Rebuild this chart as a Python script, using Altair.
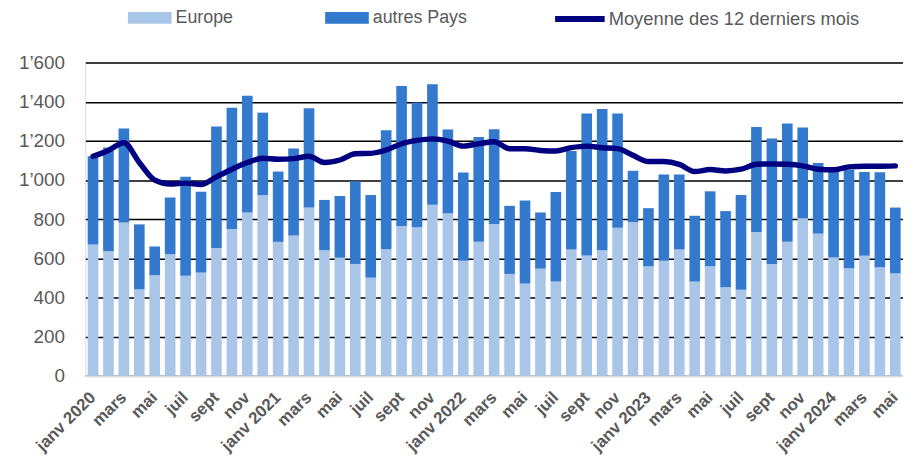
import altair as alt
import pandas as pd

mois = [f"{a}-{m:02d}" for a in (2020, 2021, 2022, 2023, 2024) for m in range(1, 13)][:53]

europe = [670, 636, 783, 441, 513, 621, 511, 527, 652, 750, 834, 923,
          684, 716, 859, 641, 603, 571, 501, 646, 765, 758, 873, 829,
          587, 685, 775, 520, 471, 547, 481, 645, 614, 641, 756, 785,
          559, 587, 645, 481, 560, 452, 439, 734, 571, 684, 805, 726,
          604, 549, 613, 554, 523]
autres = [451, 530, 480, 332, 147, 289, 505, 413, 621, 619, 596, 421,
          359, 445, 508, 257, 315, 422, 422, 608, 715, 638, 616, 429,
          451, 534, 484, 348, 424, 287, 458, 503, 725, 721, 583, 262,
          297, 441, 383, 336, 382, 389, 484, 537, 641, 604, 463, 361,
          441, 503, 428, 486, 336]
moyenne = [1121, 1151, 1190, 1089, 999, 979, 984, 977, 1016, 1055, 1089, 1111,
           1106, 1109, 1121, 1089, 1102, 1134, 1136, 1153, 1185, 1202, 1210, 1198,
           1173, 1185, 1195, 1160, 1160, 1151, 1148, 1165, 1173, 1165, 1160, 1126,
           1094, 1094, 1080, 1043, 1053, 1046, 1055, 1080, 1082, 1080, 1072, 1055,
           1052, 1067, 1070, 1070, 1072]
noms_mois = ["janv", "févr", "mars", "avr", "mai", "juin", "juil", "août", "sept", "oct", "nov", "déc"]
y_ticks = [0, 200, 400, 600, 800, 1000, 1200, 1400, 1600]
series = ["Europe", "autres Pays"]
couleurs = ["#A9C6E9", "#3379CD"]
nom_ligne = "Moyenne des 12 derniers mois"

rows = []
for i, k in enumerate(mois):
    rows.append({"mois": k, "serie": series[0], "valeur": europe[i], "ordre": 0})
    rows.append({"mois": k, "serie": series[1], "valeur": autres[i], "ordre": 1})
df_bars = pd.DataFrame(rows)
df_line = pd.DataFrame({"mois": mois, "valeur": moyenne, "serie": nom_ligne})

arr = "[" + ",".join(f"'{m}'" for m in noms_mois) + "]"
label_expr = (f"substring(datum.value,5,7)=='01' ? 'janv ' + substring(datum.value,0,4) : "
              f"{arr}[toNumber(substring(datum.value,5,7))-1]")

FONT = "Liberation Sans"
GRAY = "#595959"

x_axis = alt.Axis(values=mois[::2], labelExpr=label_expr, labelAngle=-45,
                  labelAlign="right", labelBaseline="middle", labelPadding=19,
                  labelFont=FONT, labelFontSize=17, labelFontWeight="bold",
                  labelColor=GRAY, ticks=False, domain=True,
                  domainColor="#D9D9D9", domainWidth=2, grid=False,
                  labelOverlap=False, title=None)
y_axis = alt.Axis(values=y_ticks,
                  labelExpr="replace(format(datum.value, ','), ',', '’')",
                  labelFont=FONT, labelFontSize=19, labelColor=GRAY,
                  labelPadding=21, ticks=False, domain=False, labelOverlap=False,
                  grid=True, gridColor="#000000", gridWidth=1.5, title=None)
x_scale = alt.Scale(paddingInner=0.31, paddingOuter=0.155)
y_scale = alt.Scale(domain=[0, 1600])

bars = alt.Chart(df_bars).mark_bar().encode(
    x=alt.X("mois:N", sort=mois, scale=x_scale, axis=x_axis),
    y=alt.Y("valeur:Q", stack="zero", scale=y_scale, axis=y_axis),
    color=alt.Color("serie:N", scale=alt.Scale(domain=series, range=couleurs),
                    legend=alt.Legend(title=None, orient="none", direction="horizontal",
                                      legendX=43, legendY=-67,
                                      symbolType="M-1,-0.27L1,-0.27L1,0.27L-1,0.27Z",
                                      symbolSize=1936, symbolStrokeWidth=0,
                                      labelFont=FONT, labelFontSize=18, labelColor=GRAY,
                                      labelOffset=4, columnPadding=92, labelLimit=0)),
    order=alt.Order("ordre:Q"),
)

line = alt.Chart(df_line).mark_line(strokeWidth=5.5, interpolate="monotone",
                                    strokeCap="round", strokeJoin="round").encode(
    x=alt.X("mois:N", sort=mois, scale=x_scale, axis=x_axis),
    y=alt.Y("valeur:Q", scale=y_scale, axis=y_axis),
    stroke=alt.Stroke("serie:N", scale=alt.Scale(domain=[nom_ligne], range=["#000080"]),
                      legend=alt.Legend(title=None, orient="none", legendX=471, legendY=-72,
                                        symbolType="stroke", symbolSize=2500,
                                        symbolStrokeWidth=6, labelLimit=0,
                                        labelFont=FONT, labelFontSize=18.5, labelColor=GRAY,
                                        labelOffset=1)),
)

chart = alt.layer(bars, line).properties(
    width=825, height=316,
    autosize=alt.AutoSizeParams(type="none"),
    padding={"left": 78, "top": 53, "right": 0, "bottom": 80},
).configure_view(stroke=None).configure(background="white")

chart.save("out.html", embed_options={"renderer": "svg", "actions": False})
